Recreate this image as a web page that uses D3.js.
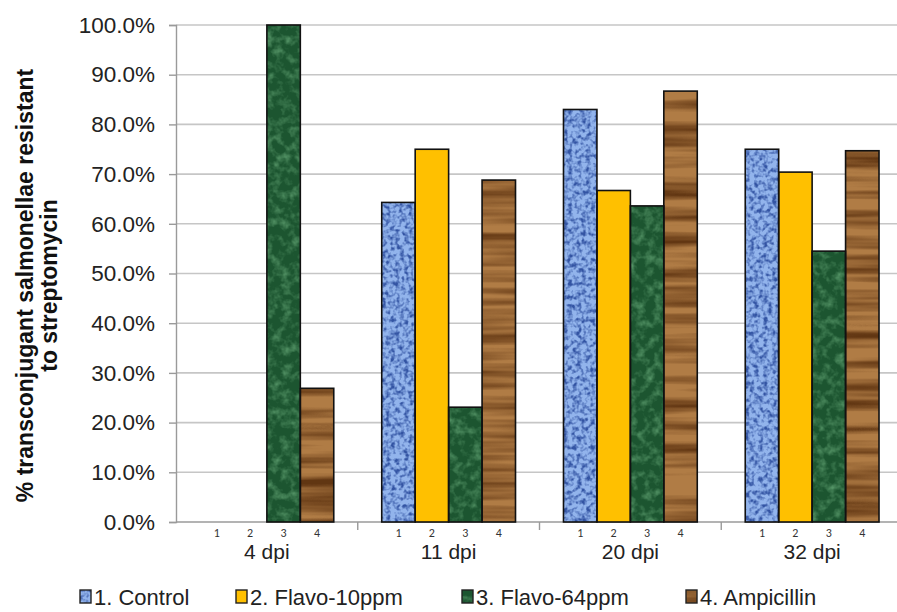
<!DOCTYPE html>
<html>
<head>
<meta charset="utf-8">
<script src="https://cdn.jsdelivr.net/npm/d3@7"></script>
<style>
  html, body { margin: 0; padding: 0; background: #fff; }
  svg { display: block; overflow: hidden; font-family: "Liberation Sans", Arial, sans-serif; }
</style>
</head>
<body>
<svg id="chart" width="897" height="612"></svg>
<script>
// Days post-inoculation (outer category level)
const categories = ["4 dpi", "11 dpi", "20 dpi", "32 dpi"];
// Treatment groups (inner category level, labelled 1-4 under each bar)
const series = ["1. Control", "2. Flavo-10ppm", "3. Flavo-64ppm", "4. Ampicillin"];
const seriesShort = ["1", "2", "3", "4"];
// Percent of transconjugants resistant to streptomycin, per series, per category
const control   = [null, 64.3, 83.0, 75.0];
const flavo10   = [null, 75.0, 66.7, 70.4];
const flavo64   = [100.0, 23.1, 63.6, 54.5];
const ampicillin = [26.9, 68.8, 86.7, 74.7];
const seriesValues = [control, flavo10, flavo64, ampicillin];
const yTicks = [0, 10, 20, 30, 40, 50, 60, 70, 80, 90, 100];

const svg = d3.select("#chart");
const plot = { left: 176, right: 903, top: 25, bottom: 522 };

const x0 = d3.scaleBand().domain(categories).range([plot.left, plot.right]).padding(0);
const gap = x0.bandwidth() * 0.132;
const x1 = d3.scaleBand().domain(series).range([gap, x0.bandwidth() - gap]).padding(0);
const y = d3.scaleLinear().domain([0, 100]).range([plot.bottom, plot.top]);

// ---- textured fills ----
const defs = svg.append("defs");

function texture(id, freq, octaves, seed, rgb, alphaScale, alphaBias) {
  const f = defs.append("filter").attr("id", id)
    .attr("x", 0).attr("y", 0).attr("width", 1).attr("height", 1)
    .attr("color-interpolation-filters", "sRGB");
  f.append("feTurbulence").attr("type", "fractalNoise")
    .attr("baseFrequency", freq).attr("numOctaves", octaves).attr("seed", seed)
    .attr("result", "noise");
  f.append("feColorMatrix").attr("in", "noise").attr("type", "matrix")
    .attr("values", `0 0 0 0 ${rgb[0]}  0 0 0 0 ${rgb[1]}  0 0 0 0 ${rgb[2]}  ${alphaScale} 0 0 0 ${alphaBias}`)
    .attr("result", "marks");
  f.append("feComposite").attr("in", "marks").attr("in2", "SourceGraphic").attr("operator", "atop");
}
// denim-like speckle for Control
texture("texBlue", "0.22", 2, 4, [0.2, 0.33, 0.64], 3.0, -1.25);
// marble mottling for Flavo-64ppm
texture("texGreen", "0.11", 3, 7, [0.33, 0.58, 0.40], 2.2, -0.95);
// wood grain for Ampicillin
texture("texWood", "0.004 0.09", 3, 11, [0.38, 0.21, 0.07], 2.2, -0.8);

const fills = [
  { color: "#92b4ec", filter: "url(#texBlue)" },
  { color: "#ffc000", filter: null },
  { color: "#1c5530", filter: "url(#texGreen)" },
  { color: "#b07c45", filter: "url(#texWood)" }
];

// ---- gridlines ----
svg.append("g")
  .selectAll("line").data(yTicks.filter(d => d > 0)).join("line")
  .attr("x1", plot.left).attr("x2", plot.right)
  .attr("y1", d => y(d)).attr("y2", d => y(d))
  .attr("stroke", "#c6c6c6").attr("stroke-width", 1.6);

// ---- y axis ----
const yAxis = d3.axisLeft(y).tickValues(yTicks).tickSize(7).tickPadding(14)
  .tickFormat(d => d3.format(".1f")(d) + "%");
const gy = svg.append("g").attr("transform", `translate(${plot.left},0)`).call(yAxis);
gy.select(".domain").attr("stroke", "#9a9a9a").attr("stroke-width", 1.4);
gy.selectAll(".tick line").attr("stroke", "#9a9a9a").attr("stroke-width", 1.4);
gy.selectAll(".tick text").attr("fill", "#222").attr("font-size", 22.5)
  .attr("font-family", "'Liberation Sans', Arial, sans-serif");

// ---- x axis baseline and group ticks ----
svg.append("line")
  .attr("x1", plot.left).attr("x2", plot.right)
  .attr("y1", plot.bottom).attr("y2", plot.bottom)
  .attr("stroke", "#9a9a9a").attr("stroke-width", 1.4);
svg.append("g").selectAll("line").data(categories.slice(1)).join("line")
  .attr("x1", d => x0(d)).attr("x2", d => x0(d))
  .attr("y1", plot.bottom).attr("y2", plot.bottom + 8)
  .attr("stroke", "#9a9a9a").attr("stroke-width", 1.4);

// ---- bars ----
const rows = [];
categories.forEach((c, ci) => {
  series.forEach((s, si) => {
    rows.push({ cat: c, ser: s, si, value: seriesValues[si][ci] });
  });
});
const barData = rows.filter(d => d.value != null);

const bars = svg.append("g");
bars.selectAll("rect.fill").data(barData).join("rect")
  .attr("class", "fill")
  .attr("x", d => x0(d.cat) + x1(d.ser))
  .attr("y", d => y(d.value))
  .attr("width", x1.bandwidth())
  .attr("height", d => y(0) - y(d.value))
  .attr("fill", d => fills[d.si].color)
  .attr("filter", d => fills[d.si].filter);
bars.selectAll("rect.edge").data(barData).join("rect")
  .attr("class", "edge")
  .attr("x", d => x0(d.cat) + x1(d.ser))
  .attr("y", d => y(d.value))
  .attr("width", x1.bandwidth())
  .attr("height", d => y(0) - y(d.value))
  .attr("fill", "none").attr("stroke", "#111").attr("stroke-width", 1.6);

// ---- inner category labels (1-4) ----
svg.append("g").selectAll("text").data(rows).join("text")
  .attr("x", d => x0(d.cat) + x1(d.ser) + x1.bandwidth() / 2)
  .attr("y", plot.bottom + 15)
  .attr("text-anchor", "middle")
  .attr("font-size", 12).attr("fill", "#333")
  .attr("font-family", "Calibri, Carlito, 'Liberation Sans', sans-serif")
  .text(d => seriesShort[d.si]);

// ---- outer category labels ----
svg.append("g").selectAll("text").data(categories).join("text")
  .attr("x", d => x0(d) + x0.bandwidth() / 2)
  .attr("y", plot.bottom + 37)
  .attr("text-anchor", "middle")
  .attr("font-size", 21).attr("fill", "#222")
  .text(d => d);

// ---- y axis title ----
const title = svg.append("text")
  .attr("transform", `translate(33,${(plot.top + plot.bottom) / 2 + 12}) rotate(-90)`)
  .attr("text-anchor", "middle")
  .attr("font-size", 23).attr("font-weight", "bold").attr("fill", "#111");
title.append("tspan").attr("x", 0).attr("dy", 0).text("% transconjugant salmonellae resistant");
title.append("tspan").attr("x", 0).attr("dy", 24).text("to streptomycin");

// ---- legend ----
const legendX = [80, 236, 462, 686];
const lg = svg.append("g").selectAll("g").data(series).join("g")
  .attr("transform", (d, i) => `translate(${legendX[i]},597)`);
lg.append("rect")
  .attr("x", 0).attr("y", -7).attr("width", 11).attr("height", 13)
  .attr("fill", (d, i) => fills[i].color)
  .attr("filter", (d, i) => fills[i].filter);
lg.append("rect")
  .attr("x", 0).attr("y", -7).attr("width", 11).attr("height", 13)
  .attr("fill", "none").attr("stroke", "#222").attr("stroke-width", 1.4);
lg.append("text")
  .attr("x", 14).attr("y", 8)
  .attr("font-size", 22).attr("fill", "#222")
  .text(d => d);
</script>
</body>
</html>
